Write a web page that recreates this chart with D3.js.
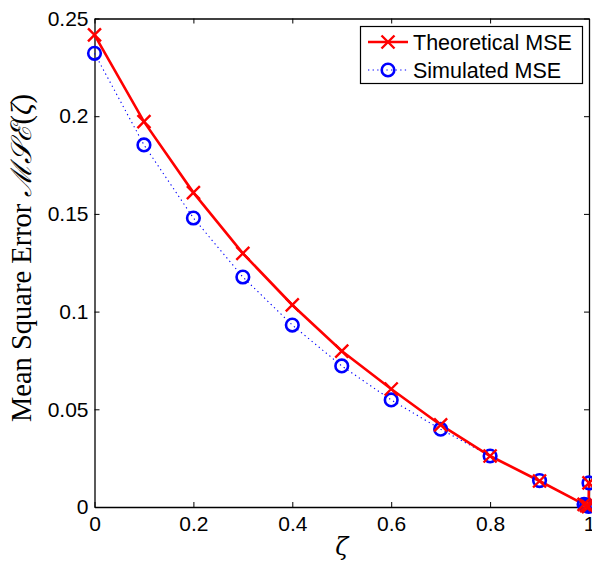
<!DOCTYPE html>
<html><head><meta charset="utf-8">
<script src="https://cdn.jsdelivr.net/npm/d3@7"></script>
<style>body{margin:0;background:#fff}svg{display:block}</style>
</head><body>
<script>
const zeta = [0, 0.1, 0.2, 0.3, 0.4, 0.5, 0.6, 0.7, 0.8, 0.9, 0.99, 0.995, 0.999, 1];
const theoretical = [0.2416, 0.1972, 0.1609, 0.1298, 0.1034, 0.0798, 0.0604, 0.0420, 0.0261, 0.0133, 0.0013, 0.0007, 0.0002, 0.0123];
const simulated = [0.2322, 0.1853, 0.1479, 0.1177, 0.0931, 0.0722, 0.0548, 0.0398, 0.0261, 0.0135, 0.0014, 0.0008, 0.0003, 0.0123];
const xTicks = [0, 0.2, 0.4, 0.6, 0.8, 1];
const yTicks = [0, 0.05, 0.1, 0.15, 0.2, 0.25];
const seriesNames = ["Theoretical MSE", "Simulated MSE"];

const W = 592, H = 563;
const m = {left: 94.5, right: 3, top: 18.5, bottom: 56};
const svg = d3.select("body").append("svg").attr("width", W).attr("height", H);
const x = d3.scaleLinear().domain([0, 1]).range([m.left, W - m.right]);
const y = d3.scaleLinear().domain([0, 0.25]).range([H - m.bottom, m.top]);
const font = "'Liberation Sans', Arial, sans-serif";

// axes
const gx = svg.append("g").attr("transform", `translate(0,${y(0)})`)
  .call(d3.axisBottom(x).tickValues(xTicks).tickSizeInner(-5).tickSizeOuter(0).tickPadding(9).tickFormat(d => d3.format("")(d)));
const gy = svg.append("g").attr("transform", `translate(${x(0)},0)`)
  .call(d3.axisLeft(y).tickValues(yTicks).tickSizeInner(-5).tickSizeOuter(0).tickPadding(6).tickFormat(d => d3.format("")(d)));
const gt = svg.append("g").attr("transform", `translate(0,${y(0.25)})`)
  .call(d3.axisTop(x).tickValues(xTicks).tickSizeInner(-5).tickSizeOuter(0).tickFormat(""));
const gr = svg.append("g").attr("transform", `translate(${x(1)},0)`)
  .call(d3.axisRight(y).tickValues(yTicks).tickSizeInner(-5).tickSizeOuter(0).tickFormat(""));
[gx, gy, gt, gr].forEach(g => {
  g.selectAll("path").attr("stroke", "#000").attr("stroke-width", 1.3);
  g.selectAll("line").attr("stroke", "#000").attr("stroke-width", 1);
  g.selectAll("text").attr("font-family", font).attr("font-size", 21).attr("fill", "#000");
});
gx.selectAll("text").attr("dy", "0.71em");

// simulated dotted line
const line = (vals) => d3.line().x((d, i) => x(zeta[i])).y(d => y(d))(vals);
svg.append("path").attr("d", line(simulated)).attr("fill", "none")
  .attr("stroke", "#0000ff").attr("stroke-width", 1.1).attr("stroke-dasharray", "1.3,3.3");
// theoretical solid line
svg.append("path").attr("d", line(theoretical)).attr("fill", "none")
  .attr("stroke", "#ff0000").attr("stroke-width", 2.6);

// markers
const cross = (g, cx, cy) => {
  const s = 6.5;
  g.append("path").attr("d", `M${cx - s},${cy - s}L${cx + s},${cy + s}M${cx - s},${cy + s}L${cx + s},${cy - s}`)
    .attr("stroke", "#ff0000").attr("stroke-width", 2.4).attr("fill", "none");
};
const circ = (g, cx, cy) => {
  g.append("circle").attr("cx", cx).attr("cy", cy).attr("r", 6.3)
    .attr("fill", "none").attr("stroke", "#0000ff").attr("stroke-width", 2.6);
};
const mk = svg.append("g");
simulated.forEach((v, i) => circ(mk, x(zeta[i]), y(v)));
theoretical.forEach((v, i) => cross(mk, x(zeta[i]), y(v)));

// legend
const lg = svg.append("g");
lg.append("rect").attr("x", 360.5).attr("y", 26.5).attr("width", 222).attr("height", 57)
  .attr("fill", "#fff").attr("stroke", "#000").attr("stroke-width", 1.2);
const rows = [42, 70];
lg.append("line").attr("x1", 368).attr("x2", 408).attr("y1", rows[0]).attr("y2", rows[0])
  .attr("stroke", "#ff0000").attr("stroke-width", 2.6);
cross(lg, 388, rows[0]);
lg.append("line").attr("x1", 368).attr("x2", 408).attr("y1", rows[1]).attr("y2", rows[1])
  .attr("stroke", "#0000ff").attr("stroke-width", 1.1).attr("stroke-dasharray", "1.3,3.3");
circ(lg, 388, rows[1]);
seriesNames.forEach((n, i) => {
  lg.append("text").attr("x", 413).attr("y", rows[i]).attr("dy", "0.35em")
    .attr("font-family", font).attr("font-size", 21.5).text(n);
});

// axis labels
svg.append("text").attr("x", x(0.5)).attr("y", 555)
  .attr("text-anchor", "middle").attr("font-family", "'DejaVu Serif', serif").attr("font-style", "italic")
  .attr("font-size", 24).text("ζ");
svg.append("text").attr("transform", `translate(31,258) rotate(-90)`)
  .attr("text-anchor", "middle").attr("font-family", "'Liberation Serif', 'DejaVu Serif', serif")
  .attr("font-size", 28.5)
  .html('Mean Square Error <tspan font-style="italic">ℳ𝒮ℰ</tspan>(<tspan font-style="italic">ζ</tspan>)');
</script>
</body></html>
